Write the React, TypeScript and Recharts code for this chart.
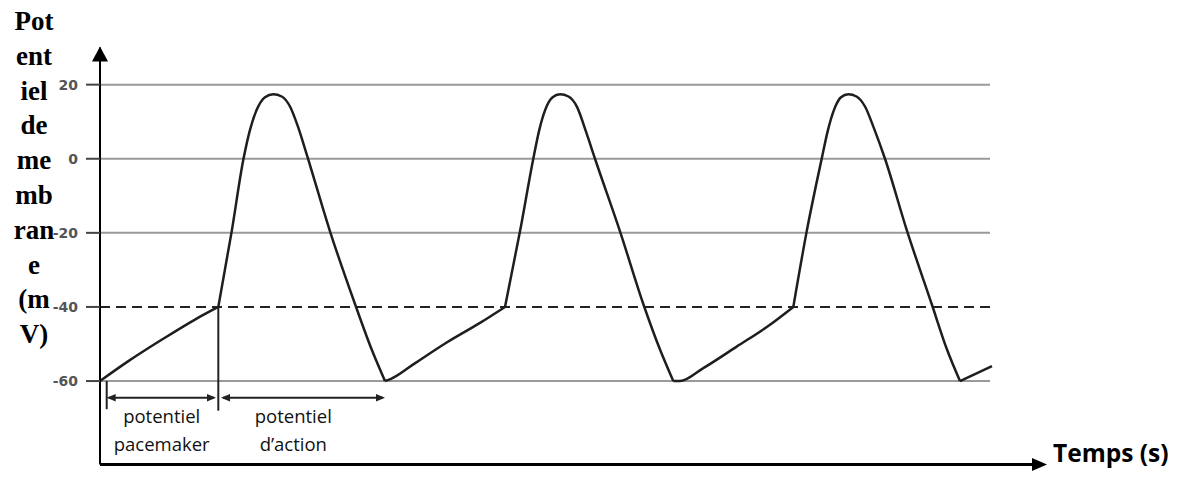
import React from "react";
import { LineChart, Line, XAxis, YAxis, ReferenceLine, ReferenceDot, Label } from "recharts";

type P = { t: number; v: number };

// time in arbitrary units (the time axis has no numeric ticks), membrane potential in mV
const pacemaker1: P[] = [
  { t: 0, v: -60 }, { t: 28, v: -54.7 }, { t: 62, v: -48.8 }, { t: 95, v: -43.4 }, { t: 118.3, v: -40 },
];
const action1: P[] = [
  { t: 118.3, v: -40 }, { t: 131.7, v: -19.6 }, { t: 143.3, v: -0.3 }, { t: 150, v: 7.8 }, { t: 156.7, v: 13.2 },
  { t: 165, v: 16.6 }, { t: 173.3, v: 17.4 }, { t: 181.7, v: 16.8 }, { t: 190, v: 14.1 }, { t: 198.3, v: 8.4 },
  { t: 206.7, v: 1.2 }, { t: 230, v: -19.6 }, { t: 255, v: -39.2 }, { t: 271.7, v: -51.5 }, { t: 285, v: -60 },
];
const pacemaker2: P[] = [
  { t: 285, v: -60 }, { t: 291, v: -59.4 }, { t: 313.3, v: -55.5 }, { t: 346.7, v: -49.6 }, { t: 380, v: -44.3 }, { t: 405, v: -40 },
];
const action2: P[] = [
  { t: 405, v: -40 }, { t: 420, v: -19.6 }, { t: 433.3, v: 0 }, { t: 439.3, v: 7.8 }, { t: 445.2, v: 13.2 },
  { t: 452.6, v: 16.6 }, { t: 460, v: 17.4 }, { t: 468.5, v: 16.8 }, { t: 477, v: 14 }, { t: 486, v: 7.3 },
  { t: 495, v: 0 }, { t: 520, v: -19.6 }, { t: 543.3, v: -39.2 }, { t: 560, v: -51.5 }, { t: 573.3, v: -60 },
];
const pacemaker3: P[] = [
  { t: 573.3, v: -60 }, { t: 580, v: -60 }, { t: 603.3, v: -56.5 }, { t: 636.7, v: -50.7 }, { t: 670, v: -44.8 }, { t: 693.3, v: -40 },
];
const action3: P[] = [
  { t: 693.3, v: -40 }, { t: 706.7, v: -19.6 }, { t: 721.7, v: 0 }, { t: 728, v: 7.8 }, { t: 734, v: 13.2 },
  { t: 741, v: 16.6 }, { t: 748.3, v: 17.4 }, { t: 756.5, v: 16.8 }, { t: 765, v: 14.1 }, { t: 774, v: 8.2 },
  { t: 785, v: 0 }, { t: 806.7, v: -19.2 }, { t: 831.7, v: -39.2 }, { t: 847, v: -51.5 }, { t: 860, v: -60 },
];
const pacemaker4: P[] = [
  { t: 860, v: -60 }, { t: 892, v: -56 },
];

const segments: P[][] = [pacemaker1, action1, pacemaker2, action2, pacemaker3, action3, pacemaker4];

const yTicks = [20, 0, -20, -40, -60];
const gridLevels = [20, 0, -20, -60];
const thresholdLevel = -40;
const gridEnd = 890;
const T_MAX = 940;
const V_MIN = -82.5;
const V_MAX = 30;

const yLabelLines = ["Pot", "ent", "iel", "de", "me", "mb", "ran", "e", "(m", "V)"];
const xLabel = "Temps (s)";

// annotation values (time, mV)
const bracketStart = 6.7;
const thresholdTime = 118.3;
const actionEnd = 285;
const arrowLevel = -64.5;
const bracketBottom = -68;
const pacemakerLabel = ["potentiel", "pacemaker"];
const actionLabel = ["potentiel", "d\u2019action"];
const pacemakerLabelT = 61.7;
const actionLabelT = 193.3;

const CURVE = "#1e1e1e";

const DoubleArrow = (props: any) => {
  const { x1, y1, x2 } = props;
  const h = 3.8;
  const L = 9;
  return (
    <g>
      <line x1={x1 + 2} y1={y1} x2={x2 - 2} y2={y1} stroke="#222" strokeWidth={2} />
      <polygon points={`${x1},${y1} ${x1 + L},${y1 - h} ${x1 + L},${y1 + h}`} fill="#222" />
      <polygon points={`${x2},${y1} ${x2 - L},${y1 - h} ${x2 - L},${y1 + h}`} fill="#222" />
    </g>
  );
};

const makeTextShape = (lines: string[]) => (props: any) => {
  const { cx, cy } = props;
  return (
    <g>
      {lines.map((s, i) => (
        <text
          key={i}
          x={cx}
          y={cy + 25.5 + i * 27.5}
          textAnchor="middle"
          fontFamily="'Open Sans', sans-serif"
          fontSize={18.5}
          fill="#111"
        >
          {s}
        </text>
      ))}
    </g>
  );
};

const UpArrow = (props: any) => {
  const { cx, cy } = props;
  return <polygon points={`${cx},${cy - 1} ${cx - 8},${cy + 14} ${cx + 8},${cy + 14}`} fill="#000" />;
};

const RightArrow = (props: any) => {
  const { cx, cy } = props;
  return (
    <g>
      <polygon points={`${cx + 7},${cy} ${cx - 8},${cy - 6.5} ${cx - 8},${cy + 6.5}`} fill="#000" />
      <text
        x={cx + 13}
        y={cy - 2}
        fontFamily="'Open Sans', sans-serif"
        fontWeight={700}
        fontSize={24.5}
        fill="#000"
      >
        {xLabel}
      </text>
    </g>
  );
};

const renderYLabel = () => (
  <g>
    {yLabelLines.map((s, i) => (
      <text
        key={i}
        x={34}
        y={30 + i * 34.8}
        textAnchor="middle"
        fontFamily="'Liberation Serif', 'Times New Roman', serif"
        fontWeight={700}
        fontSize={27}
        fill="#000"
      >
        {s}
      </text>
    ))}
  </g>
);

export default function App() {
  return (
    <div style={{ position: "absolute", left: 0, top: 0, width: 1180, height: 481, background: "#fff" }}>
      <LineChart width={1180} height={481} margin={{ top: 47.6, right: 140, bottom: 16.6, left: 60 }}>
        <XAxis type="number" dataKey="t" domain={[0, T_MAX]} hide allowDataOverflow />
        <YAxis
          type="number"
          domain={[V_MIN, V_MAX]}
          ticks={yTicks}
          interval={0}
          width={40}
          allowDataOverflow
          axisLine={{ stroke: "#000", strokeWidth: 2 }}
          tickLine={{ stroke: "#444", strokeWidth: 2 }}
          tickSize={14}
          tickMargin={8}
          tick={{ fontFamily: "'DejaVu Sans', sans-serif", fontWeight: 700, fontSize: 14, fill: "#555" }}
        >
          <Label content={renderYLabel} />
        </YAxis>

        {gridLevels.map((lv) => (
          <ReferenceLine
            key={lv}
            segment={[{ x: 0, y: lv }, { x: gridEnd, y: lv }]}
            stroke="#9a9a9a"
            strokeWidth={2}
          />
        ))}
        <ReferenceLine
          segment={[{ x: 0, y: thresholdLevel }, { x: gridEnd, y: thresholdLevel }]}
          stroke="#222"
          strokeWidth={2}
          strokeDasharray="10 6"
        />

        {/* annotations */}
        <ReferenceLine
          segment={[{ x: bracketStart, y: -60 }, { x: bracketStart, y: bracketBottom + 0.4 }]}
          stroke="#222"
          strokeWidth={2}
        />
        <ReferenceLine
          segment={[{ x: thresholdTime, y: thresholdLevel }, { x: thresholdTime, y: bracketBottom }]}
          stroke="#222"
          strokeWidth={2}
        />
        <ReferenceLine
          segment={[{ x: bracketStart, y: arrowLevel }, { x: thresholdTime - 2.3, y: arrowLevel }]}
          shape={DoubleArrow}
        />
        <ReferenceLine
          segment={[{ x: thresholdTime + 2.7, y: arrowLevel }, { x: actionEnd, y: arrowLevel }]}
          shape={DoubleArrow}
        />
        <ReferenceDot x={pacemakerLabelT} y={arrowLevel} shape={makeTextShape(pacemakerLabel)} />
        <ReferenceDot x={actionLabelT} y={arrowLevel} shape={makeTextShape(actionLabel)} />

        {segments.map((seg, i) => (
          <Line
            key={i}
            data={seg}
            dataKey="v"
            type="monotone"
            stroke={CURVE}
            strokeWidth={2.5}
            dot={false}
            activeDot={false}
            isAnimationActive={false}
          />
        ))}

        {/* axes arrows */}
        <ReferenceLine
          segment={[{ x: 0, y: V_MIN }, { x: T_MAX, y: V_MIN }]}
          stroke="#000"
          strokeWidth={3}
        />
        <ReferenceDot x={0} y={V_MAX} shape={UpArrow} />
        <ReferenceDot x={T_MAX} y={V_MIN} shape={RightArrow} />
      </LineChart>
    </div>
  );
}
